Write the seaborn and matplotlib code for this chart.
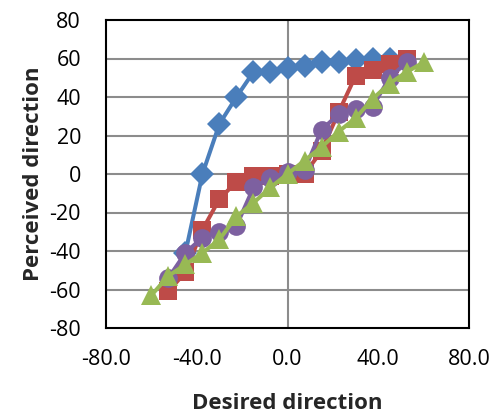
import seaborn as sns
from matplotlib import pyplot as plt
import numpy as np
import pandas as pd

# desired direction for each series
x_blue = [-45, -37.5, -30, -22.5, -15, -7.5, 0, 7.5, 15, 22.5, 30, 37.5, 45]
y_blue = [-41, 0, 26, 40, 53, 53, 55, 56, 58, 58, 59, 60, 60]

x_red = [-52.5, -45, -37.5, -30, -22.5, -15, -7.5, 0, 7.5, 15, 22.5, 30, 37.5, 45, 52.5]
y_red = [-61, -51, -29, -13, -4, -1, -1, 0, 0, 12, 32, 51, 54, 57, 60]

x_purple = [-52.5, -45, -37.5, -30, -22.5, -15, -7.5, 0, 7.5, 15, 22.5, 30, 37.5, 45, 52.5]
y_purple = [-54, -41, -33, -30, -27, -7, -2, 1, 2, 23, 31, 34, 35, 50, 58]

x_green = [-60, -52.5, -45, -37.5, -30, -22.5, -15, -7.5, 0, 7.5, 15, 22.5, 30, 37.5, 45, 52.5, 60]
y_green = [-63, -53, -47, -41, -34, -22, -15, -7, 0, 7, 14, 22, 29, 39, 47, 53, 58]

x_ticks = [-80, -40, 0, 40, 80]
y_ticks = [-80, -60, -40, -20, 0, 20, 40, 60, 80]

series = [
    ('blue', x_blue, y_blue, '#4A7EBB', 'D', 12),
    ('red', x_red, y_red, '#BE4B48', 's', 12.5),
    ('purple', x_purple, y_purple, '#7D60A0', 'o', 13.5),
    ('green', x_green, y_green, '#98B954', '^', 14),
]

sns.set_style('white')
plt.rcParams['font.family'] = ['Open Sans', 'DejaVu Sans']

fig = plt.figure(figsize=(4.96, 4.20), dpi=100)
ax = fig.add_axes([106 / 496, 1 - 328 / 420, 363 / 496, 308 / 420])

for y in y_ticks[1:-1]:
    ax.axhline(y, color='#8c8c8c', lw=1.5, zorder=0)
ax.axvline(0, color='#8c8c8c', lw=1.5, zorder=0)

for name, xs, ys, col, mk, ms in series:
    df = pd.DataFrame({'x': xs, 'y': ys})
    sns.lineplot(data=df, x='x', y='y', ax=ax, color=col, lw=2.9,
                 marker=mk, markersize=ms, markeredgewidth=0, sort=False)

ax.set_xlim(-80, 80)
ax.set_ylim(-80, 80)
ax.set_xticks(x_ticks)
ax.set_xticklabels([f'{v:.1f}' for v in x_ticks])
ax.set_yticks(y_ticks)
ax.set_yticklabels([str(v) for v in y_ticks])
ax.tick_params(length=0, labelsize=15.5, colors='black')
ax.tick_params(axis='x', pad=15)
ax.tick_params(axis='y', pad=18)
for s in ax.spines.values():
    s.set_color('black')
    s.set_linewidth(1.5)

ax.set_xlabel('Desired direction', fontsize=16, fontweight='bold', labelpad=17)
ax.set_ylabel('Perceived direction', fontsize=16, fontweight='bold', labelpad=4)

fig.savefig('out.png', dpi=100)
